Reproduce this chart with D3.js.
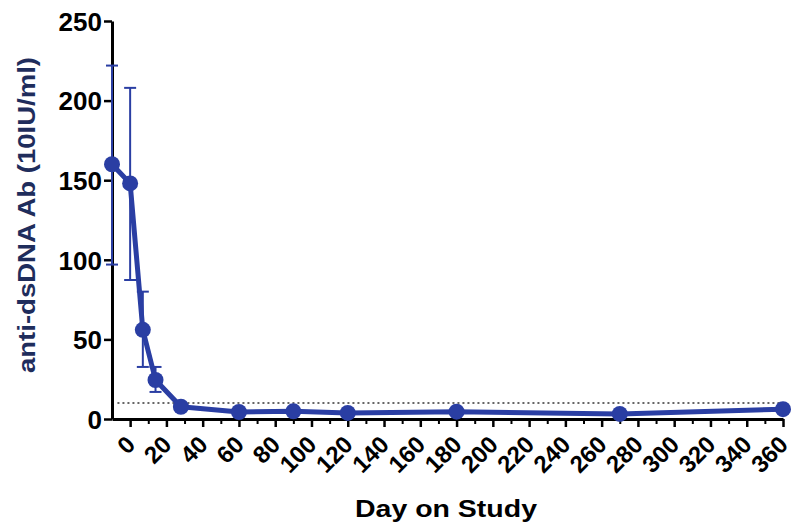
<!DOCTYPE html>
<html>
<head>
<meta charset="utf-8">
<script src="https://cdn.jsdelivr.net/npm/d3@7"></script>
<style>
	body { margin: 0; background: #fff; }
	svg text { font-family: "Liberation Sans", Arial, sans-serif; font-weight: bold; }
</style>
</head>
<body>
<div class="chart"></div>
<script>
// values
var days = [-10, 0, 7, 14, 28, 60, 90, 120, 180, 270, 360];
var means = [160, 148, 56, 24.5, 7.7, 4.4, 4.8, 3.8, 4.6, 3.2, 6.2];
var upper = [222, 208, 80, 32.7, 9.5, 5, 5.5, 4.4, 5.2, 3.7, 7];
var lower = [97, 87.3, 32.7, 17, 6, 3.8, 4.1, 3.2, 4, 2.7, 5.4];
var xTicks = d3.range(0, 361, 20);
var yTicks = [0, 50, 100, 150, 200, 250];
var cutoff = 10;

var w = 792,
	h = 526,
	margin = {top: 21, right: 9, bottom: 107, left: 112},
	blue = '#2a3ea3';

var svg = d3.select('.chart')
	.append('svg')
	.attr('width', w)
	.attr('height', h);

var xScale = d3.scaleLinear()
	.domain([-10, 360])
	.range([margin.left, w - margin.right]);

var yScale = d3.scaleLinear()
	.domain([0, 250])
	.range([h - margin.bottom, margin.top]);

// minor ticks every 10 days
svg.append('g')
	.attr('transform', 'translate(0,' + yScale(0) + ')')
	.call(d3.axisBottom(xScale).tickValues(d3.range(10, 360, 20)).tickSize(5).tickFormat(''))
	.call(function(g) { g.select('.domain').remove(); })
	.selectAll('line')
	.attr('stroke', '#000')
	.attr('stroke-width', 2);

var xAxis = svg.append('g')
	.attr('transform', 'translate(0,' + yScale(0) + ')')
	.call(d3.axisBottom(xScale).tickValues(xTicks).tickSize(8).tickSizeOuter(0));

xAxis.select('.domain').attr('stroke', '#000').attr('stroke-width', 3);
xAxis.selectAll('.tick line').attr('stroke', '#000').attr('stroke-width', 2.5);
xAxis.selectAll('.tick text')
	.attr('font-size', 24)
	.attr('fill', '#000')
	.attr('text-anchor', 'end')
	.attr('dy', null)
	.attr('y', 0)
	.attr('transform', 'translate(6,27) rotate(-45)');

var yAxis = svg.append('g')
	.attr('transform', 'translate(' + margin.left + ',0)')
	.call(d3.axisLeft(yScale).tickValues(yTicks).tickSize(8).tickSizeOuter(0));

yAxis.select('.domain').attr('stroke', '#000').attr('stroke-width', 3);
yAxis.selectAll('.tick line').attr('stroke', '#000').attr('stroke-width', 2.5);
yAxis.selectAll('.tick text')
	.attr('font-size', 26)
	.attr('fill', '#000')
	.attr('x', -10)
	.attr('dy', '0.36em');

// dotted cutoff line
svg.append('line')
	.attr('x1', xScale(-7))
	.attr('x2', xScale(360))
	.attr('y1', yScale(cutoff))
	.attr('y2', yScale(cutoff))
	.attr('stroke', '#333')
	.attr('stroke-width', 1.5)
	.attr('stroke-dasharray', '2,3');

var data = days.map(function(d, i) {
	return {day: d, mean: means[i], hi: upper[i], lo: lower[i]};
});

// error bars
var bars = svg.append('g')
	.attr('stroke', blue)
	.attr('stroke-width', 2);

bars.selectAll('.whisker')
	.data(data)
	.enter()
	.append('line')
	.attr('x1', function(d) { return xScale(d.day); })
	.attr('x2', function(d) { return xScale(d.day); })
	.attr('y1', function(d) { return yScale(d.hi); })
	.attr('y2', function(d) { return yScale(d.lo); });

['hi', 'lo'].forEach(function(k) {
	bars.selectAll('.cap-' + k)
		.data(data)
		.enter()
		.append('line')
		.attr('x1', function(d) { return xScale(d.day) - 6; })
		.attr('x2', function(d) { return xScale(d.day) + 6; })
		.attr('y1', function(d) { return yScale(d[k]); })
		.attr('y2', function(d) { return yScale(d[k]); });
});

var line = d3.line()
	.x(function(d) { return xScale(d.day); })
	.y(function(d) { return yScale(d.mean); });

svg.append('path')
	.datum(data)
	.attr('fill', 'none')
	.attr('stroke', blue)
	.attr('stroke-width', 5)
	.attr('stroke-linejoin', 'round')
	.attr('d', line);

svg.selectAll('.dot')
	.data(data)
	.enter()
	.append('circle')
	.attr('cx', function(d) { return xScale(d.day); })
	.attr('cy', function(d) { return yScale(d.mean); })
	.attr('r', 8)
	.attr('fill', blue);

// axis titles
svg.append('text')
	.attr('x', 446)
	.attr('y', 517)
	.attr('text-anchor', 'middle')
	.attr('font-size', 24)
	.attr('textLength', 182)
	.attr('lengthAdjust', 'spacingAndGlyphs')
	.attr('fill', '#000')
	.text('Day on Study');

svg.append('text')
	.attr('transform', 'translate(35,' + 215 + ') rotate(-90)')
	.attr('text-anchor', 'middle')
	.attr('font-size', 23)
	.attr('textLength', 316)
	.attr('lengthAdjust', 'spacingAndGlyphs')
	.attr('fill', '#1f2d5c')
	.text('anti-dsDNA Ab (10IU/ml)');
</script>
</body>
</html>
